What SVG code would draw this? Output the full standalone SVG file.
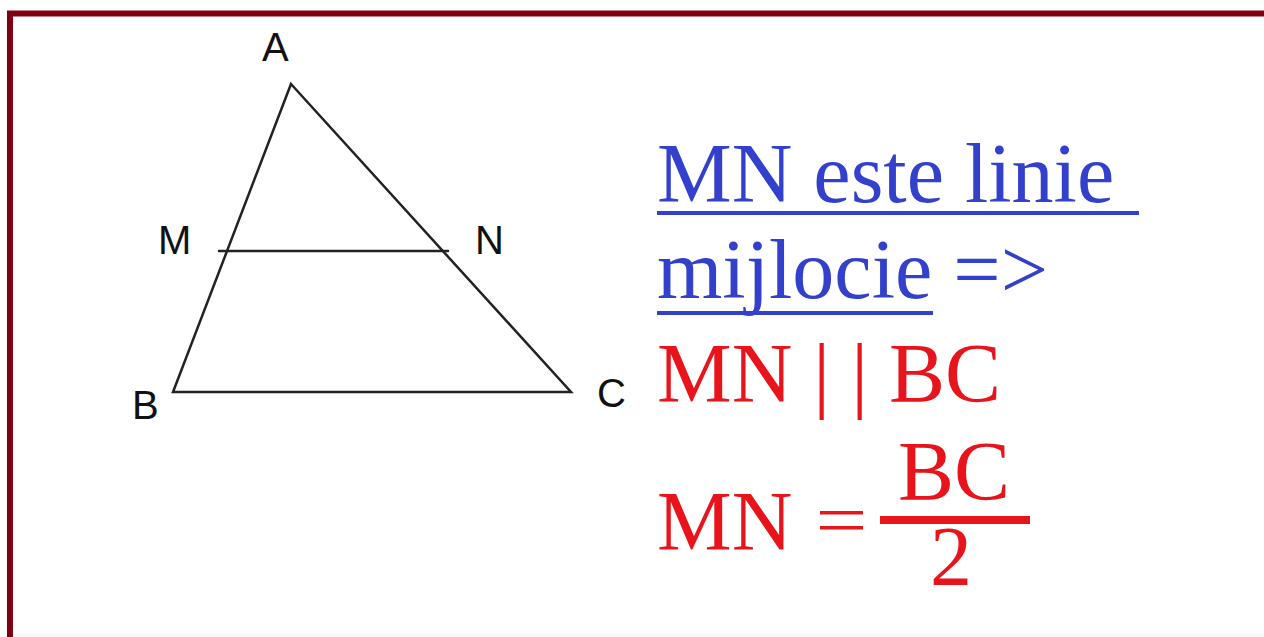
<svg xmlns="http://www.w3.org/2000/svg" width="1264" height="637" viewBox="0 0 1264 637">
<style>
.lbl{font-family:"Liberation Sans",Arial,sans-serif;font-size:40px;fill:#111}
.blue{font-family:"Liberation Serif","Times New Roman",serif;font-size:84px;fill:#3340cc}
.red{font-family:"Liberation Serif","Times New Roman",serif;font-size:84px;fill:#e8141c}
.seg{stroke:#222;stroke-width:2.5;fill:none;stroke-linecap:round;stroke-linejoin:miter}
</style>
<rect width="1264" height="637" fill="#ffffff"/>
<rect x="15" y="633.5" width="1249" height="4" fill="#eefcfb"/>
<rect x="10" y="13.5" width="1300" height="700" fill="none" stroke="#800012" stroke-width="6"/>
<g id="triangle">
<polygon class="seg" points="291,84 173,392 571,392"/>
</g>
<g id="connectors">
<line class="seg" x1="219" y1="251" x2="448" y2="251"/>
</g>
<g id="labels">
<text id="A" class="lbl" x="262" y="61">A</text>
<text id="M" class="lbl" x="158" y="254">M</text>
<text id="N" class="lbl" x="475" y="254">N</text>
<text id="B" class="lbl" x="132" y="419">B</text>
<text id="C" class="lbl" x="597" y="407">C</text>
</g>
<g id="statement">
<text class="blue" x="657" y="202">MN este linie </text>
<rect x="657" y="211" width="482" height="4" fill="#3340cc"/>
<text class="blue" x="657" y="298">mijlocie =&gt;</text>
<rect x="657" y="311" width="276" height="4" fill="#3340cc"/>
</g>
<g id="result">
<text class="red" x="657" y="402" xml:space="preserve">MN | | BC</text>
<text class="red" x="657" y="550">MN</text>
<rect x="820" y="511" width="43" height="3.5" fill="#e8141c"/>
<rect x="820" y="526" width="43" height="3.5" fill="#e8141c"/>
<text class="red" x="898" y="500">BC</text>
<rect x="880" y="516" width="150" height="8" fill="#e8141c"/>
<text class="red" x="930" y="585">2</text>
</g>
</svg>
